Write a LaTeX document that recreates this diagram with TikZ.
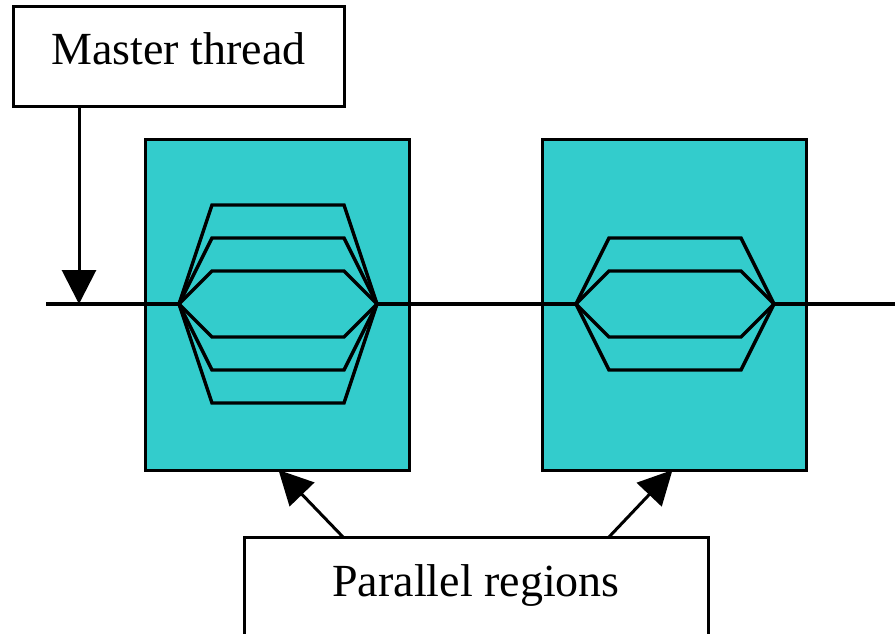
\documentclass[tikz,border=0pt]{standalone}
\usepackage{fontspec}
\setmainfont{Liberation Serif}
\usetikzlibrary{calc}
\usetikzlibrary{arrows.meta}
\definecolor{regioncyan}{RGB}{51,204,204}

\begin{document}
\begin{tikzpicture}[x=1pt, y=-1pt, line width=3.4pt,
  labelbox/.style={draw, fill=white, line width=3pt, inner sep=0pt, outer sep=0pt, font=\fontsize{46}{50}\selectfont, text height=32pt, text depth=16pt},
  region/.style={draw, fill=regioncyan, line width=3pt, inner sep=0pt, outer sep=0pt, minimum width=264pt, minimum height=331pt},
  pointer/.style={-{Triangle[length=34pt, width=34pt]}, line width=3pt}]
\useasboundingbox (0,0) rectangle (895,634);

\node[region] (reg1) at (277.5,304.5) {};
\node[region] (reg2) at (674.5,304.5) {};

\coordinate (start) at (46,304);
\coordinate (entry) at (79,304);
\coordinate (fork1) at (179,304);
\coordinate (join1) at (377,304);
\coordinate (fork2) at (576,304);
\coordinate (join2) at (774,304);
\coordinate (end) at (895,304);

\draw (start)--(fork1) (join1)--(fork2) (join2)--(end);
\foreach \d in {-99,-66,-33,33,66,99}
  \draw (fork1)--($(fork1)+(33,\d)$)--($(join1)+(-33,\d)$)--(join1);
\foreach \d in {-66,-33,33,66}
  \draw (fork2)--($(fork2)+(33,\d)$)--($(join2)+(-33,\d)$)--(join2);

\node[labelbox, minimum width=331pt, minimum height=100pt] (master) at (178.5,57) {Master thread};
\node[labelbox, minimum width=464pt, minimum height=102pt] (par) at (476,588) {Parallel regions};

\draw[pointer] ([xshift=66pt]master.south west)--(entry);
\draw[pointer] ([xshift=99pt]par.north west)--([xshift=133pt]reg1.south west);
\draw[pointer] ([xshift=365pt]par.north west)--([xshift=130pt]reg2.south west);

\end{tikzpicture}
\end{document}
